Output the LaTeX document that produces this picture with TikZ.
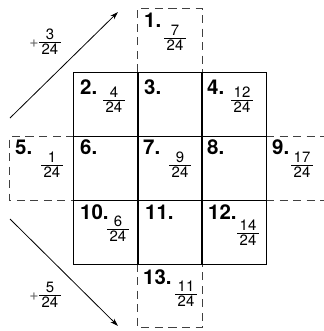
\documentclass[tikz,border=0pt]{standalone}
\usepackage{fontspec}
\setmainfont{TeX Gyre Heros}
\usetikzlibrary{arrows.meta}
\setlength\arrayrulewidth{0.8pt}
\newcommand\myfr[2]{\begin{tabular}{@{\,}c@{\,}}#1\\[-0.12em]\hline\rule{0pt}{0.8em}#2\end{tabular}}
\begin{document}
\begin{tikzpicture}[x=1bp,y=-1bp,
  cell/.style={draw, line width=1bp, minimum width=64bp, minimum height=64bp, inner sep=0pt, outer sep=0pt},
  ghost/.style={minimum width=64bp, minimum height=64bp, inner sep=0pt, outer sep=0pt},
  dbox/.style={draw=black!75, line width=1bp, dash pattern=on 8bp off 5.5bp},
  num/.style={anchor=north west, inner sep=0pt, font=\bfseries\fontsize{20.5}{20.5}\selectfont},
  fracl/.style={inner sep=0pt, font=\fontsize{15}{15}\selectfont},
  plusl/.style={inner sep=0pt, text=black!60, font=\fontsize{16}{16}\selectfont},
  arr/.style={-{Stealth[length=8bp,width=5bp]}, line width=0.8bp}]
\useasboundingbox (0,0) rectangle (324,331);
% dashed outer boxes
\node[ghost] (c1) at (170,40) {};
\node[ghost] (c5) at (42,168) {};
\node[ghost] (c9) at (298,168) {};
\node[ghost] (c13) at (170,295.5) {};
\draw[dbox] (c1.south west) -- (c1.north west) -- (c1.north east) -- (c1.south east);
\draw[dbox] (c5.north east) -- (c5.north west) -- (c5.south west) -- (c5.south east);
\draw[dbox] (c9.north west) -- (c9.north east);
\draw[dbox] (c9.south west) -- (c9.south east);
\draw[dbox] (c13.north west) -- (c13.south west) -- (c13.south east) -- (c13.north east);
% grid
\node[cell] (c2) at (106,104) {};
\node[cell] (c3) at (170,104) {};
\node[cell] (c4) at (234,104) {};
\node[cell] (c6) at (106,168) {};
\node[cell] (c7) at (170,168) {};
\node[cell] (c8) at (234,168) {};
\node[cell] (c10) at (106,232) {};
\node[cell] (c11) at (170,232) {};
\node[cell] (c12) at (234,232) {};
% numbers
\node[num] (n1) at (144,13) {1.};
\node[num] (n2) at (80,80) {2.};
\node[num] (n3) at (144,80) {3.};
\node[num] (n4) at (207,80) {4.};
\node[num] (n5) at (15,140) {5.};
\node[num] (n6) at (80,140) {6.};
\node[num] (n7) at (143,140) {7.};
\node[num] (n8) at (207,140) {8.};
\node[num] (n9) at (272,140) {9.};
\node[num] (n10) at (80,205) {10.};
\node[num] (n11) at (145,205) {11.};
\node[num] (n12) at (208,205) {12.};
\node[num] (n13) at (143,270) {13.};
% fractions
\node[fracl] (f1) at (175,40) {\myfr{7}{24}};
\node[fracl] (f2) at (114,102) {\myfr{4}{24}};
\node[fracl] (f4) at (242,102) {\myfr{12}{24}};
\node[fracl] (f5) at (52,167) {\myfr{1}{24}};
\node[fracl] (f7) at (180,167) {\myfr{9}{24}};
\node[fracl] (f9) at (302,167) {\myfr{17}{24}};
\node[fracl] (f10) at (118,231) {\myfr{6}{24}};
\node[fracl] (f12) at (248,235) {\myfr{14}{24}};
\node[fracl] (f13) at (186,296) {\myfr{11}{24}};
% arrows
\coordinate (a1s) at (10,118);
\coordinate (a1e) at (118,12);
\coordinate (a2s) at (10,219);
\coordinate (a2e) at (118,326);
\draw[arr] (a1s) -- (a1e);
\draw[arr] (a2s) -- (a2e);
\node[plusl] (p1) at (34,44) {+};
\node[fracl] (g1) at (50,44) {\myfr{3}{24}};
\node[plusl] (p2) at (34,297) {+};
\node[fracl] (g2) at (50,297) {\myfr{5}{24}};
\end{tikzpicture}
\end{document}
